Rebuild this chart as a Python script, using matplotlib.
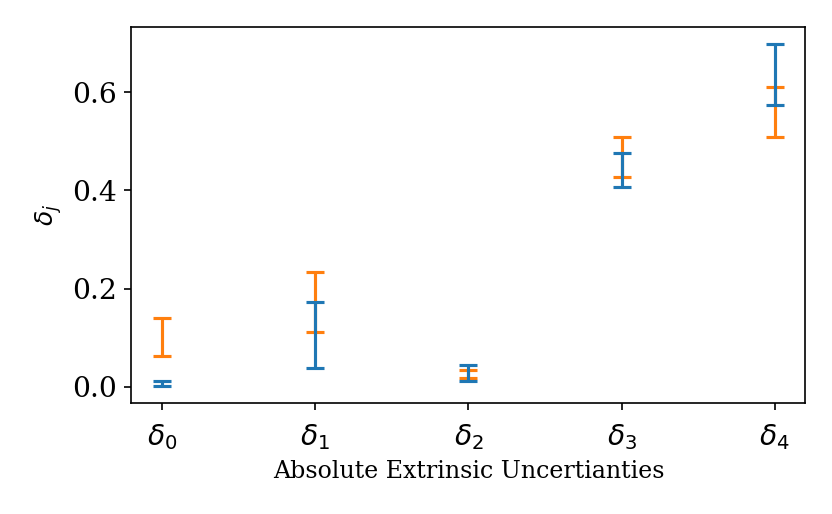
import matplotlib
matplotlib.use("Agg")
import matplotlib.pyplot as plt
import numpy as np

plt.rcParams['font.family'] = 'serif'

labels = [r'$\delta_0$', r'$\delta_1$', r'$\delta_2$', r'$\delta_3$', r'$\delta_4$']
# interval bounds
blue_lo = np.array([0.001, 0.039, 0.011, 0.408, 0.573])
blue_hi = np.array([0.011, 0.172, 0.044, 0.477, 0.698])
orange_lo = np.array([0.063, 0.112, 0.019, 0.427, 0.508])
orange_hi = np.array([0.140, 0.233, 0.035, 0.508, 0.610])

x = np.arange(len(labels))

fig = plt.figure(figsize=(832 / 150, 514 / 150), dpi=150)
ax = fig.add_axes([0.158, 0.215, 0.81, 0.7325])

# orange first so the blue bars sit on top of it
ax.errorbar(x, (orange_lo + orange_hi) / 2, yerr=(orange_hi - orange_lo) / 2,
            fmt='none', ecolor='C1', capsize=4.5, elinewidth=1.5, capthick=1.5)
ax.errorbar(x, (blue_lo + blue_hi) / 2, yerr=(blue_hi - blue_lo) / 2,
            fmt='none', ecolor='C0', capsize=4.5, elinewidth=1.5, capthick=1.5)

ax.set_xticks(x)
ax.set_xticklabels(labels)
ax.set_yticks([0.0, 0.2, 0.4, 0.6])
ax.tick_params(labelsize=13.5)
ax.tick_params(axis='x', pad=5.5)
ax.set_xlabel('Absolute Extrinsic Uncertianties', fontsize=11.4)
ax.set_ylabel(r'$\delta_j$', fontsize=12)

fig.savefig('out.png', dpi=150)
